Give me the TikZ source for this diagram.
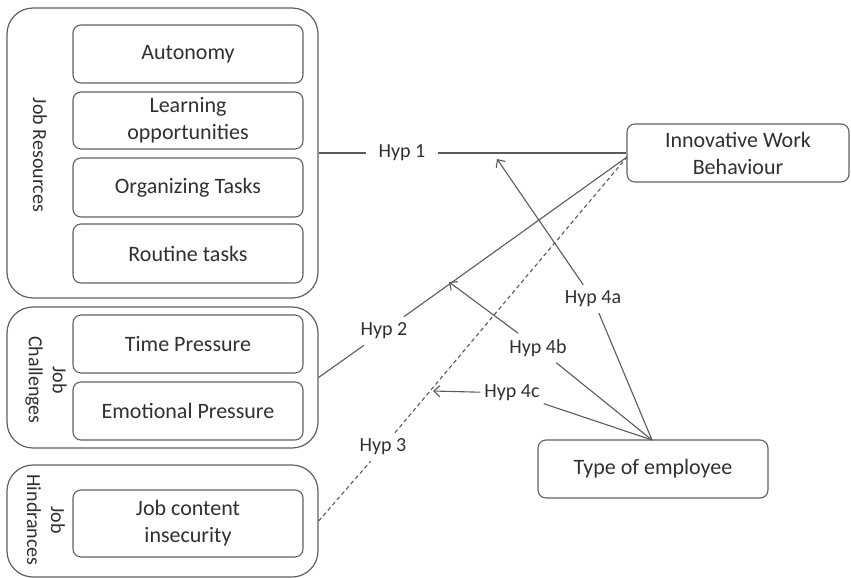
\documentclass[tikz,border=0pt]{standalone}
\usepackage{fontspec}
\setmainfont{Carlito}
\usetikzlibrary{arrows.meta}
\definecolor{boxline}{HTML}{606060}
\definecolor{conn}{HTML}{5A5A5A}
\definecolor{txt}{HTML}{303030}
\begin{document}
\begin{tikzpicture}[x=1pt,y=-1pt,
  outerbox/.style={draw=boxline,line width=1.2pt,rounded corners=26pt,minimum width=311pt,inner sep=0pt},
  innerbox/.style={draw=boxline,line width=1.1pt,rounded corners=8pt,minimum width=230pt,inner sep=0pt,
    font=\fontsize{22}{27}\selectfont,text=txt,align=center},
  sidelabel/.style={rotate=-90,font=\fontsize{20}{24}\selectfont,text=txt,align=center,inner sep=0pt},
  hyp/.style={font=\fontsize{20}{24}\selectfont,text=txt,inner sep=6pt},
  conline/.style={draw=conn,line width=1.1pt},
  dashline/.style={draw=conn,line width=1.1pt,dash pattern=on 4pt off 3pt},
  arr/.style={conline,-{Straight Barb[length=6pt,width=11pt,line width=1.1pt]}}
]
\useasboundingbox (0,0) rectangle (851,578);
% outer groups
\node[outerbox,minimum height=290pt] (jr) at (162.5,153) {};
\node[outerbox,minimum height=141pt] (jc) at (162.5,377.5) {};
\node[outerbox,minimum height=112pt] (jh) at (162.5,521) {};
% side labels
\node[sidelabel] (jrl) at (40,155) {Job Resources};
\node[sidelabel] (jcl) at (46,380) {Job\\Challenges};
\node[sidelabel] (jhl) at (46,520) {Job\\Hindrances};
% inner boxes
\node[innerbox,minimum height=58pt] (aut) at (188,54) {Autonomy};
\node[innerbox,minimum height=57pt] (lea) at (188,120.5) {Learning\\opportunities};
\node[innerbox,minimum height=59pt] (org) at (188,187.5) {Organizing Tasks};
\node[innerbox,minimum height=59pt] (rou) at (188,253.5) {Routine tasks};
\node[innerbox,minimum height=58pt] (tim) at (188,344) {Time Pressure};
\node[innerbox,minimum height=58pt] (emo) at (188,411) {Emotional Pressure};
\node[innerbox,minimum height=67pt] (jci) at (188,523.5) {Job content\\insecurity};
% right boxes
\node[innerbox,minimum width=222pt,minimum height=58pt] (iwb) at (738,153) {Innovative Work\\Behaviour};
\node[innerbox,minimum height=58pt] (te) at (653,469) {Type of employee};
\coordinate (iwbin) at (627,157);
\coordinate (teout) at (652,440);
% hyp labels
\node[hyp,inner xsep=12pt] (h1) at (402,153) {Hyp 1};
\node[hyp] (h2) at (384,331) {Hyp 2};
\node[hyp] (h3) at (383,447) {Hyp 3};
\node[hyp] (h4a) at (593,299) {Hyp 4a};
\node[hyp] (h4b) at (538,348) {Hyp 4b};
\node[hyp,inner sep=4pt] (h4c) at (512,393) {Hyp 4c};
% arrow tips
\coordinate (t4a) at (497,159);
\coordinate (t4b) at (449,282);
\coordinate (t4c) at (433,391);
% connectors
\draw[conline] (jr.east) -- (h1);
\draw[conline] (h1) -- (iwb.west);
\draw[conline] (jc.east) -- (h2);
\draw[conline] (h2) -- (iwbin);
\draw[dashline] (jh.east) -- (h3);
\draw[dashline] (h3) -- (iwbin);
\draw[conline] (teout) -- (h4a);
\draw[arr] (h4a) -- (t4a);
\draw[conline] (teout) -- (h4b);
\draw[arr] (h4b) -- (t4b);
\draw[conline] (teout) -- (h4c);
\draw[arr] (h4c) -- (t4c);
\end{tikzpicture}
\end{document}
